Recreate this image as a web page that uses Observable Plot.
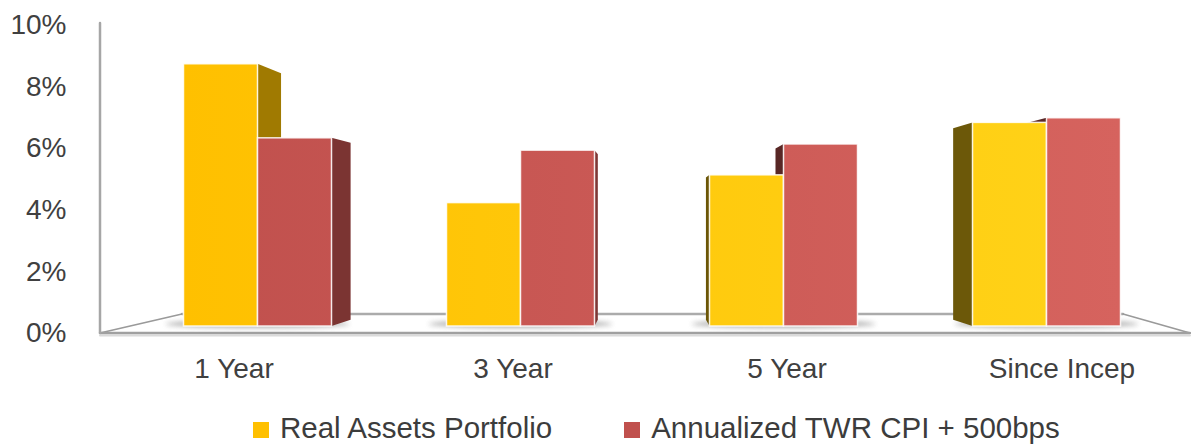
<!DOCTYPE html>
<html>
<head>
<meta charset="utf-8">
<script src="https://cdn.jsdelivr.net/npm/d3@7"></script>
<script src="https://cdn.jsdelivr.net/npm/@observablehq/plot@0.6"></script>
<style>
  html, body { margin: 0; padding: 0; background: #fff; overflow: hidden; }
  #chart svg { display: block; }
  .legend { height: 33px; font: 29.5px "Liberation Sans", Arial, sans-serif; line-height: 30px;
            color: #3c3c3c; white-space: nowrap; padding-left: 253px; }
  .legend .item { display: inline-block; }
  .legend .sw { display: inline-block; width: 16px; height: 16px; margin-right: 11px; }
</style>
</head>
<body>
<div id="chart"></div>
<div class="legend" id="legend"></div>
<script>
// ---- data ----
const categories = ["1 Year", "3 Year", "5 Year", "Since Incep"];
const seriesNames = ["Real Assets Portfolio", "Annualized TWR CPI + 500bps"];
const realAssets = [0.085, 0.040, 0.049, 0.066];
const twrCpi = [0.061, 0.057, 0.059, 0.0675];
const yTicks = [0, 0.02, 0.04, 0.06, 0.08, 0.10];

// ---- styles ----
const colorsA = ["#FFC000", "#FFD319"];   // gold, left -> right lighting
const colorsB = ["#C0504D", "#D6635E"];   // red
const labelShift = [-24, -8, 3, 15];      // perspective shift of category labels
const persp = { vx: 650, vy: 220, depth: 0.06 };
const insetNear = 57.5, insetFar = 131.5;

const data = categories.flatMap((c, i) => [
  { category: c, series: seriesNames[0], value: realAssets[i] },
  { category: c, series: seriesNames[1], value: twrCpi[i] }
]);

const W = 1191, H = 413;
const fmt = d3.format(".0%");
const chart = Plot.plot({
  width: W, height: H,
  marginLeft: 125.5, marginRight: 13.5, marginTop: 17.5, marginBottom: 87,
  style: { fontFamily: '"Liberation Sans", Arial, sans-serif', fontSize: "28px", color: "#404040", background: "white", overflow: "visible" },
  x: { domain: categories, padding: 0, axis: null },
  y: { domain: [0, 0.1], axis: null },
  marks: [
    Plot.barY(data.filter(d => d.series === seriesNames[0]), {
      x: "category", y: "value", fill: "url(#gradA)",
      insetLeft: insetNear, insetRight: insetFar,
      stroke: "#fff", strokeWidth: 1.5, strokeOpacity: 0.85
    }),
    Plot.barY(data.filter(d => d.series === seriesNames[1]), {
      x: "category", y: "value", fill: "url(#gradB)",
      insetLeft: insetFar, insetRight: insetNear,
      stroke: "#fff", strokeWidth: 1.5, strokeOpacity: 0.85
    }),
    Plot.text(yTicks, {
      y: d => d, text: d => fmt(d), frameAnchor: "left", textAnchor: "end",
      dx: -59.5, dy: 7, fontSize: 28, fill: "#404040"
    }),
    ...categories.map((c, i) => Plot.text([c], {
      x: d => d, text: d => d, frameAnchor: "bottom", dy: 51, dx: labelShift[i],
      fontSize: 28, fill: "#404040"
    }))
  ]
});
document.getElementById("chart").appendChild(chart);

// ---- 3D decoration derived from Plot's scales ----
const svg = d3.select(chart);
const xs = chart.scale("x"), ys = chart.scale("y");
const X = xs.apply ? v => xs.apply(v) : d3.scaleBand(xs.domain, xs.range);
const bw = xs.bandwidth;
const Y = ys.apply ? v => ys.apply(v) : d3.scaleLinear(ys.domain, ys.range);
const [r0, r1] = xs.range;
const Y0 = Y(0);

const defsNode = document.createElementNS("http://www.w3.org/2000/svg", "defs");
chart.insertBefore(defsNode, chart.firstChild);
const defs = d3.select(defsNode);
const gx1 = r0 + 55, gx2 = r1 - 55;
function grad(id, c) {
  const g = defs.append("linearGradient").attr("id", id).attr("gradientUnits", "userSpaceOnUse")
    .attr("x1", gx1).attr("x2", gx2).attr("y1", 0).attr("y2", 0);
  g.append("stop").attr("offset", 0).attr("stop-color", c[0]);
  g.append("stop").attr("offset", 1).attr("stop-color", c[1]);
}
grad("gradA", colorsA);
grad("gradB", colorsB);
defs.append("filter").attr("id", "blur").attr("filterUnits", "userSpaceOnUse")
  .attr("x", 0).attr("y", 0).attr("width", W).attr("height", H)
  .append("feGaussianBlur").attr("stdDeviation", 2.5);

const backNode = document.createElementNS("http://www.w3.org/2000/svg", "g");
chart.insertBefore(backNode, defsNode.nextSibling);
const back = d3.select(backNode);

const xL = r0 - 25.5, xR = r1 + 12.5;
const frontY = Y0 + 7, backY = Y0 - 12;
const backXL = xL + 82, backXR = r1 - 54.5;
const axisTop = Y(0.1) + 5.5;
const line = (x1, y1, x2, y2, stroke, w) => back.append("line")
  .attr("x1", x1).attr("y1", y1).attr("x2", x2).attr("y2", y2)
  .attr("stroke", stroke).attr("stroke-width", w).attr("stroke-linecap", "round");

line(backXL, backY, backXR, backY, "#ababab", 2.5);
line(xL, frontY, backXL, backY, "#9a9a9a", 1.6);
line(backXR, backY, xR, frontY, "#9a9a9a", 1.6);
line(xL, frontY + 2.5, xR, frontY + 2.5, "#dadada", 2);
line(xL, frontY, xR, frontY, "#a0a0a0", 2.5);
line(xL, axisTop, xL, frontY, "#a6a6a6", 2.5);

// soft floor shadows around each bar pair
categories.forEach(c => {
  const l = X(c) + insetNear, r = X(c) + bw - insetNear;
  back.append("ellipse").attr("cx", (l + r) / 2).attr("cy", Y0 - 2)
    .attr("rx", (r - l) / 2 + 18).attr("ry", 3.5)
    .attr("fill", "#6f6f6f").attr("opacity", 0.6).attr("filter", "url(#blur)");
});

// side faces
data.forEach(d => {
  const isA = d.series === seriesNames[0];
  const l = X(d.category) + (isA ? insetNear : insetFar);
  const r = X(d.category) + bw - (isA ? insetFar : insetNear);
  const yt = Y(d.value), yb = Y0;
  let xe, side;
  if (r < persp.vx) { xe = r; side = "right"; }
  else if (l > persp.vx) { xe = l; side = "left"; }
  else return;
  const k = persp.depth;
  const xb = xe + (persp.vx - xe) * k;
  const pts = [[xe, yt], [xb, yt + (persp.vy - yt) * k], [xb, yb + (persp.vy - yb) * k], [xe, yb]];
  const cols = isA ? colorsA : colorsB;
  const t = Math.max(0, Math.min(1, (xe - gx1) / (gx2 - gx1)));
  const base = d3.color(d3.interpolateRgb(cols[0], cols[1])(t));
  back.append("polygon").attr("points", pts.map(p => p.join(",")).join(" "))
    .attr("fill", base.darker(side === "right" ? 1.3 : 2.4).formatHex());
});

// ---- legend ----
const legend = d3.select("#legend");
seriesNames.forEach((name, i) => {
  const item = legend.append("span").attr("class", "item").style("margin-left", i ? "72px" : "0px");
  item.append("span").attr("class", "sw").style("background", (i ? colorsB : colorsA)[0]);
  item.append("span").text(name);
});
</script>
</body>
</html>
